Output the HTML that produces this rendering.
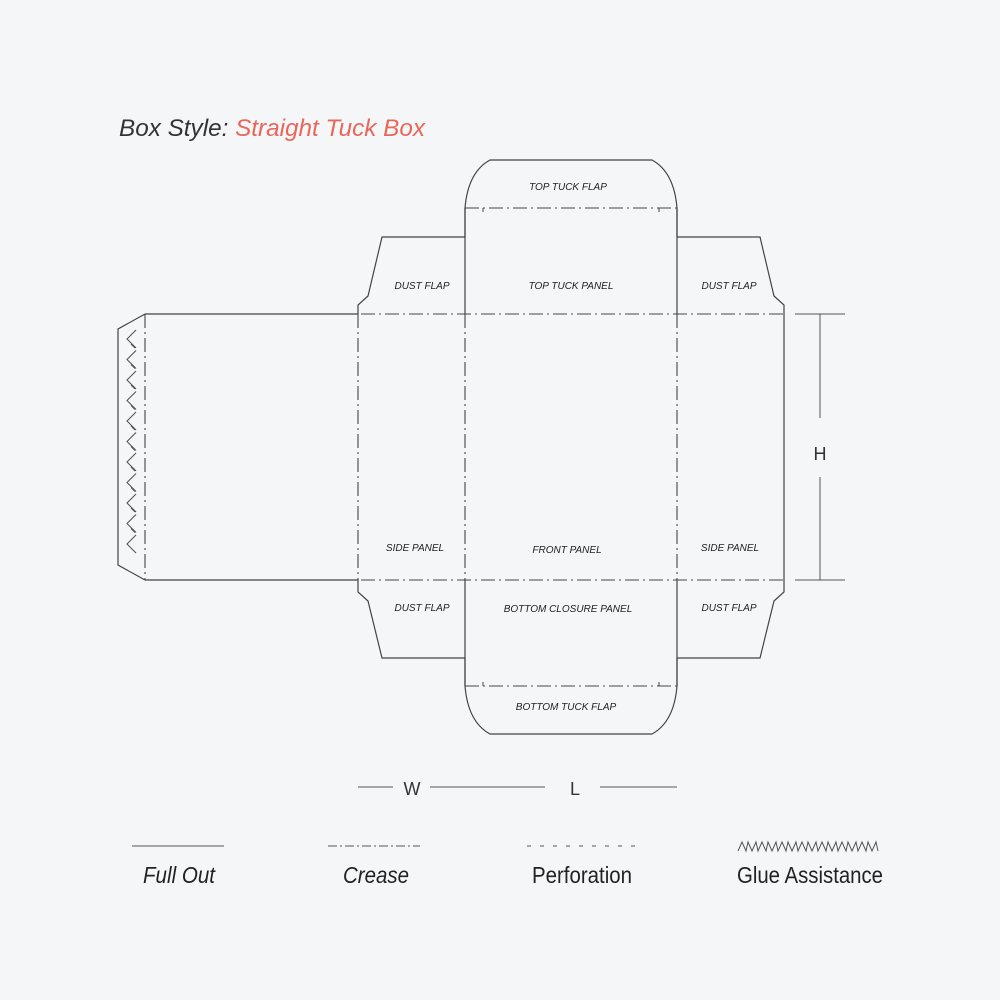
<!DOCTYPE html>
<html><head><meta charset="utf-8"><style>
html,body{margin:0;padding:0;background:#f5f6f8;}
svg{display:block}
</style></head><body>
<svg width="1000" height="1000" viewBox="0 0 1000 1000" xmlns="http://www.w3.org/2000/svg">
<rect width="1000" height="1000" fill="#f5f6f8"/>
<text x="119" y="136" font-family="Liberation Sans, sans-serif" font-style="italic" font-size="24" fill="#333" textLength="306" lengthAdjust="spacingAndGlyphs">Box Style: <tspan fill="#e8675a">Straight Tuck Box</tspan></text>
<g fill="none" stroke="#444" stroke-width="1.2">
<path d="M145,314 L118,329 L118,565 L145,580"/>
<path d="M145,314 L358,314 L358,305 L368,296 L382,237 L465,237 L465,208 Q468,172 490,160 L652,160 Q674,172 677,208 L677,237 L760,237 L774,296 L784,305 L784,592 L774,601 L760,658 L677,658 L677,686 Q674,722 652,734 L490,734 Q468,722 465,686 L465,658 L382,658 L368,601 L358,592 L358,580 L145,580"/>
<line x1="465" y1="208" x2="465" y2="314"/>
<line x1="677" y1="208" x2="677" y2="314"/>
<line x1="465" y1="580" x2="465" y2="686"/>
<line x1="677" y1="580" x2="677" y2="686"/>
</g>
<g fill="none" stroke="#444" stroke-width="1.1" stroke-dasharray="14,4,2,4">
<line x1="145" y1="314" x2="784" y2="314"/>
<line x1="145" y1="580" x2="784" y2="580"/>
<line x1="465" y1="208" x2="677" y2="208"/>
<line x1="465" y1="686" x2="677" y2="686"/>
<line x1="145" y1="314" x2="145" y2="580"/>
<line x1="358" y1="314" x2="358" y2="580"/>
<line x1="465" y1="314" x2="465" y2="580"/>
<line x1="677" y1="314" x2="677" y2="580"/>
</g>
<g stroke="#444" stroke-width="1">
<line x1="483" y1="208" x2="483" y2="212"/>
<line x1="659" y1="208" x2="659" y2="212"/>
<line x1="483" y1="686" x2="483" y2="682"/>
<line x1="659" y1="686" x2="659" y2="682"/>
</g>
<g fill="none" stroke="#555" stroke-width="1.1">
<path d="M136,330 l-9,9 l9,9 M136,350.5 l-9,9 l9,9 M136,371 l-9,9 l9,9 M136,391.5 l-9,9 l9,9 M136,412 l-9,9 l9,9 M136,432.5 l-9,9 l9,9 M136,453 l-9,9 l9,9 M136,473.5 l-9,9 l9,9 M136,494 l-9,9 l9,9 M136,514.5 l-9,9 l9,9 M136,535 l-9,9 l9,9"/>
<path d="M131,344 l4,4 M131,364.5 l4,4 M131,385 l4,4 M131,405.5 l4,4 M131,426 l4,4 M131,446.5 l4,4 M131,467 l4,4 M131,487.5 l4,4 M131,508 l4,4 M131,528.5 l4,4"/>
</g>
<g stroke="#555" stroke-width="1">
<line x1="795" y1="314" x2="845" y2="314"/>
<line x1="795" y1="580" x2="845" y2="580"/>
<line x1="820" y1="314" x2="820" y2="418"/>
<line x1="820" y1="477" x2="820" y2="580"/>
<line x1="358" y1="787" x2="393" y2="787"/>
<line x1="430" y1="787" x2="545" y2="787"/>
<line x1="600" y1="787" x2="677" y2="787"/>
</g>
<g font-family="Liberation Sans, sans-serif" font-size="18" fill="#333" text-anchor="middle">
<text x="820" y="460">H</text>
<text x="412" y="795">W</text>
<text x="575" y="795">L</text>
</g>
<g font-family="Liberation Sans, sans-serif" font-style="italic" font-size="10" fill="#222" text-anchor="middle">
<text x="568" y="190">TOP TUCK FLAP</text>
<text x="571" y="289">TOP TUCK PANEL</text>
<text x="422" y="289">DUST FLAP</text>
<text x="729" y="289">DUST FLAP</text>
<text x="415" y="551">SIDE PANEL</text>
<text x="567" y="553">FRONT PANEL</text>
<text x="730" y="551">SIDE PANEL</text>
<text x="422" y="611">DUST FLAP</text>
<text x="568" y="612">BOTTOM CLOSURE PANEL</text>
<text x="729" y="611">DUST FLAP</text>
<text x="566" y="710">BOTTOM TUCK FLAP</text>
</g>
<g stroke="#555" stroke-width="1" fill="none">
<line x1="132" y1="846" x2="224" y2="846"/>
<line x1="328" y1="846" x2="420" y2="846" stroke-dasharray="9,3,2,3"/>
<line x1="527" y1="846" x2="638" y2="846" stroke-dasharray="4,9"/>
<path d="M738,851 L742,842 L746,851 L748,842 L752,851 L756,842 L758,851 L762,842 L766,851 L768,842 L772,851 L776,842 L778,851 L782,842 L786,851 L788,842 L792,851 L796,842 L798,851 L802,842 L806,851 L808,842 L812,851 L816,842 L818,851 L822,842 L826,851 L828,842 L832,851 L836,842 L838,851 L842,842 L846,851 L848,842 L852,851 L856,842 L858,851 L862,842 L866,851 L868,842 L872,851 L876,842 L878,851"/>
</g>
<g font-family="Liberation Sans Narrow, Liberation Sans, sans-serif" font-size="23" fill="#222" text-anchor="middle">
<text x="179" y="883" font-style="italic" textLength="72" lengthAdjust="spacingAndGlyphs">Full Out</text>
<text x="376" y="883" font-style="italic" textLength="66" lengthAdjust="spacingAndGlyphs">Crease</text>
<text x="582" y="883" textLength="100" lengthAdjust="spacingAndGlyphs">Perforation</text>
<text x="810" y="883" textLength="146" lengthAdjust="spacingAndGlyphs">Glue Assistance</text>
</g>
</svg>
</body></html>
